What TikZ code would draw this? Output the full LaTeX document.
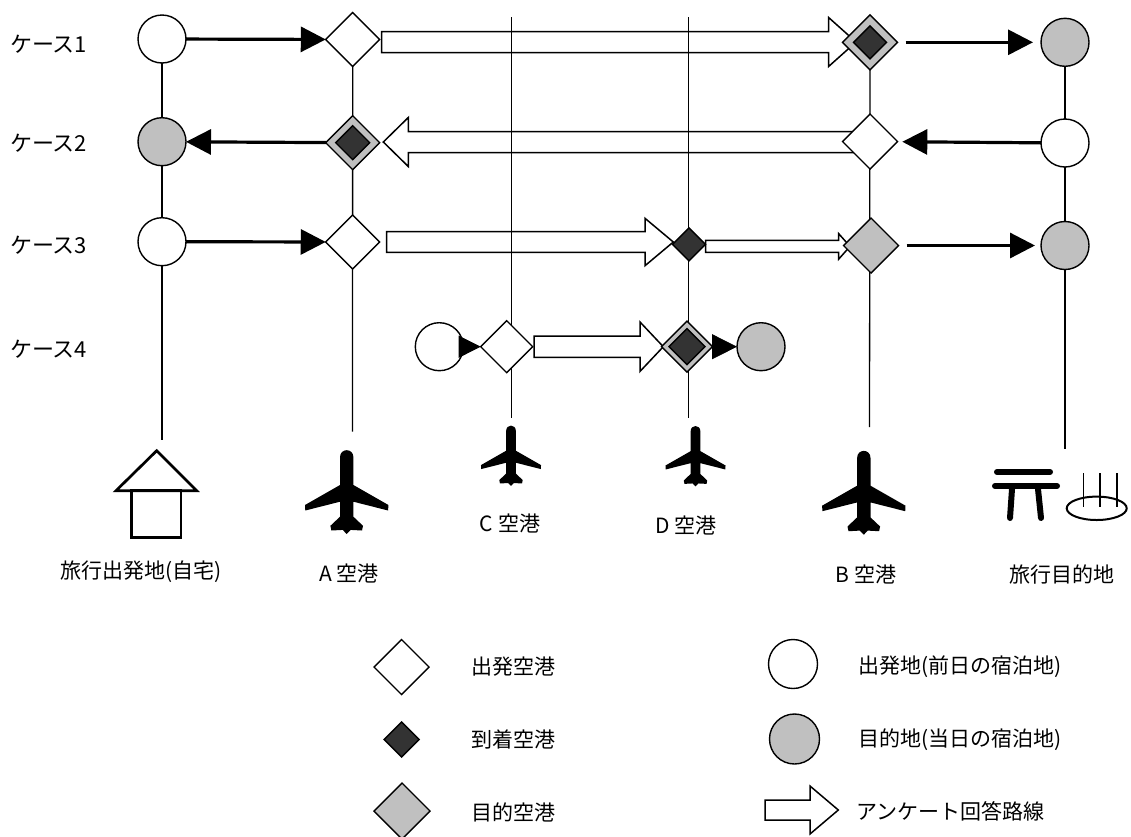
\documentclass[tikz,border=0pt]{standalone}
\usepackage{fontspec}
\setmainfont{Noto Sans CJK JP}
\usetikzlibrary{arrows.meta,shapes.geometric,calc}
\pgfdeclarelayer{bg}
\pgfsetlayers{bg,main}
\definecolor{gfill}{HTML}{C0C0C0}
\definecolor{dfill}{HTML}{333333}
\newcommand\HollowArr[5]{%
  \draw[hollow] ($(#1)+(0,{-(#3)})$) -- ($(#2)+({-(#5)},{-(#3)})$) -- ($(#2)+({-(#5)},{-(#4)})$) -- (#2) -- ($(#2)+({-(#5)},{#4})$) -- ($(#2)+({-(#5)},{#3})$) -- ($(#1)+(0,{#3})$) -- cycle;}
\begin{document}
\begin{tikzpicture}[x=1pt,y=-1pt,
  every node/.style={inner sep=0pt,outer sep=0pt},
  base/.style={draw=black,line width=1.4pt},
  dia/.style={base,diamond,minimum width=#1,minimum height=#1},
  dia/.default=54pt,
  wdia/.style={dia=#1,fill=white},
  wdia/.default=54pt,
  gdia/.style={dia=#1,fill=gfill},
  gdia/.default=54pt,
  ddia/.style={dia=#1,fill=dfill},
  ddia/.default=33pt,
  wcirc/.style={base,circle,fill=white,minimum size=#1},
  wcirc/.default=48pt,
  gcirc/.style={base,circle,fill=gfill,minimum size=#1},
  gcirc/.default=48pt,
  vline/.style={draw=black,line width=1.3pt},
  hollow/.style={draw=black,line width=1.5pt,line join=miter},
  blk/.style={draw=black,line width=3.2pt,-{Triangle[length=25pt,width=25pt]}},
  tri/.style={draw=black,line width=0.8pt,-{Triangle[length=#1,width=#1]}},
  lab/.style={font=\fontsize{21pt}{25pt}\selectfont},
  clab/.style={font=\fontsize{22pt}{26pt}\selectfont,anchor=west},
  plane/.pic={
    \fill[black,line join=round]
      (6.7,8) -- (6.7,35.7) -- (41.7,55.7) -- (41.4,61.2) -- (6.7,52.4)
      -- (6.7,67.4) -- (16.3,76.5) -- (15.3,81.2) -- (4,80.6) -- (0,84.7)
      -- (-4,80.6) -- (-15.3,81.2) -- (-16.3,76.5) -- (-6.7,67.4)
      -- (-6.7,52.4) -- (-41.4,61.2) -- (-41.7,55.7) -- (-6.7,35.7)
      -- (-6.7,8) .. controls (-6.7,-1.5) and (6.7,-1.5) .. (6.7,8) -- cycle;
  }
]
\begin{pgfonlayer}{bg}
\fill[white] (0,0) rectangle (1131,836);
\end{pgfonlayer}
\useasboundingbox (0,0) rectangle (1131,836);

% ---------- case labels
\node[clab] (k1) at (10,44.3) {ケース1};
\node[clab] (k2) at (10,143.3) {ケース2};
\node[clab] (k3) at (10,245) {ケース3};
\node[clab] (k4) at (10,349) {ケース4};

% ---------- case 1
\node[wcirc] (c1h) at (162,39) {};
\node[wdia] (c1a) at (352.7,39.5) {};
\node[gdia=55pt] (c1b) at (870,42.3) {};
\node[ddia=33pt] (c1bi) at (c1b) {};
\node[gcirc] (c1d) at (1065,42.3) {};
% ---------- case 2
\node[gcirc] (c2h) at (162,141.7) {};
\node[gdia] (c2a) at (352.7,142.7) {};
\node[ddia=34pt] (c2ai) at (c2a) {};
\node[wdia=55pt] (c2b) at (870,141.5) {};
\node[wcirc] (c2d) at (1065,143) {};
% ---------- case 3
\node[wcirc] (c3h) at (162,241.7) {};
\node[wdia] (c3a) at (352.7,242) {};
\node[ddia=33pt] (c3c) at (689,244.3) {};
\node[gdia=55pt] (c3b) at (871,245.5) {};
\node[gcirc] (c3d) at (1065,245.5) {};
% ---------- case 4
\node[wcirc] (c4o) at (439.3,346.7) {};
\node[wdia=52pt] (c4c) at (506.7,346.7) {};
\node[gdia=51pt] (c4d) at (687,346.7) {};
\node[ddia=36pt] (c4di) at (c4d) {};
\node[gcirc] (c4e) at (761,346.7) {};

% ---------- line ends
\coordinate (hEnd) at (162,440);
\coordinate (aEnd) at (352.5,431.7);
\coordinate (cTop) at (511.7,17);
\coordinate (cEnd) at (511.7,418);
\coordinate (dTop) at (688.5,17);
\coordinate (dEnd) at (688.5,417.6);
\coordinate (bEnd) at (869.5,427);
\coordinate (eEnd) at (1065,449);

% ---------- hollow arrow ends
\coordinate (h1s) at (381.7,42);
\coordinate (h1t) at (856,42);
\coordinate (h2s) at (860,142);
\coordinate (h2t) at (383.3,142);
\coordinate (h3s) at (386.7,242);
\coordinate (h3t) at (673.3,242);
\coordinate (h3bs) at (705.7,246.4);
\coordinate (h3bt) at (850,246.4);
\coordinate (h4s) at (534,346.7);
\coordinate (h4t) at (663.3,346.7);

\begin{pgfonlayer}{bg}
  \draw[vline] (c1h.center) -- (hEnd);
  \draw[vline] (c1a.center) -- (aEnd);
  \draw[vline] (cTop) -- (cEnd);
  \draw[vline] (dTop) -- (dEnd);
  \draw[vline] (c1b.center) -- (bEnd);
  \draw[vline] (c1d.center) -- (eEnd);
  \HollowArr{h1s}{h1t}{10.5}{24.5}{27.4}
  \HollowArr{h2s}{h2t}{10.5}{24.5}{-25}
  \HollowArr{h3s}{h3t}{10.3}{23.7}{28.3}
  \HollowArr{h3bs}{h3bt}{6}{12.7}{11.3}
  \HollowArr{h4s}{h4t}{10.7}{24.7}{23.3}
\end{pgfonlayer}

% ---------- black arrows
\draw[blk] (c1h) -- (c1a);
\draw[blk] (c2a) -- (c2h);
\draw[blk] (c3h) -- (c3a);
\draw[blk,shorten <=8pt,shorten >=8pt] (c1b) -- (c1d);
\draw[blk,shorten >=5pt] (c2d) -- (c2b);
\draw[blk,shorten <=8pt,shorten >=6pt] (c3b) -- (c3d);
\draw[tri=22pt] (c4o) -- (c4c);
\draw[tri=25pt] (c4d) -- (c4e);

% ---------- house
\draw[line width=2.7pt,line join=miter] (116,490.7) -- (156.7,450.7) -- (196.7,490.7) -- cycle;
\draw[line width=2.7pt] (131.7,490.7) rectangle (181,537.7);

% ---------- planes
\pic at (346.7,449.3) {plane};
\pic at (863.8,450) {plane};
\pic[scale=0.72] at (511,425) {plane};
\pic[scale=0.72] at (695.5,425.4) {plane};

% ---------- torii and hot spring
\draw[line width=6pt,line cap=round] (997,472) -- (1050,472);
\draw[line width=6pt,line cap=round] (995,486) -- (1057,486);
\draw[line width=6pt,line cap=round] (1012,489) -- (1010,518);
\draw[line width=6pt,line cap=round] (1038,489) -- (1041,518);
\draw[line width=2pt] (1096.7,508.3) ellipse [x radius=30,y radius=11.7];
\draw[line width=1.6pt] (1083.3,473.3) -- (1083.3,506.7);
\draw[line width=1.6pt] (1100,473.3) -- (1100,506.7);
\draw[line width=1.6pt] (1116.7,473.3) -- (1116.7,506.7);

% ---------- place labels
\node[lab] (lhome) at (140.7,572) {旅行出発地(自宅)};
\node[lab] (lA) at (349,573) {A 空港};
\node[lab] (lC) at (510,523) {C 空港};
\node[lab] (lD) at (686,525) {D 空港};
\node[lab] (lB) at (866,574) {B 空港};
\node[lab] (lE) at (1062,574) {旅行目的地};

% ---------- legend
\node[wdia=55pt] (lg1) at (401.5,667) {};
\node[ddia=35pt] (lg2) at (401.7,739.5) {};
\node[gdia=56pt] (lg3) at (402,811) {};
\node[lab,anchor=west] (lt1) at (471,667) {出発空港};
\node[lab,anchor=west] (lt2) at (471,739) {到着空港};
\node[lab,anchor=west] (lt3) at (471,812) {目的空港};
\node[wcirc=49pt] (lg4) at (793,664) {};
\node[gcirc=50pt] (lg5) at (794.5,739) {};
\node[lab,anchor=west] (lt4) at (858,667) {出発地(前日の宿泊地)};
\node[lab,anchor=west] (lt5) at (858,740) {目的地(当日の宿泊地)};
\coordinate (hls) at (765,810);
\coordinate (hlt) at (838.3,810);
\HollowArr{hls}{hlt}{10}{24}{28.3}
\node[lab,anchor=west] (lt6) at (856.7,811.7) {アンケート回答路線};
\end{tikzpicture}
\end{document}
